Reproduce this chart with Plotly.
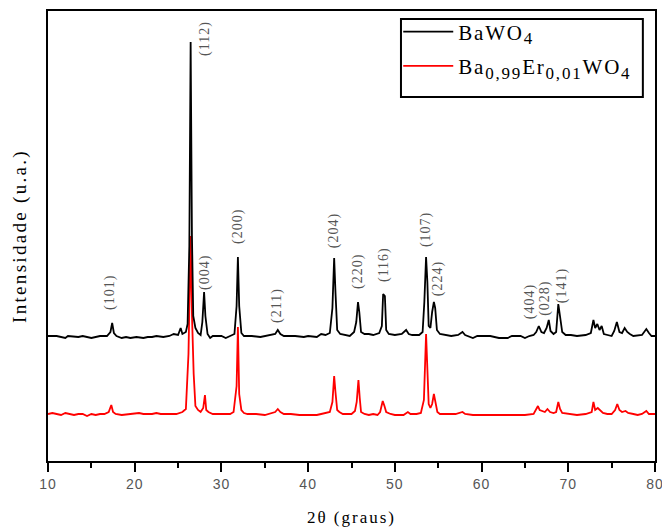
import plotly.graph_objects as go

# ---------------- data ----------------
# 2-theta (degrees) and intensity (a.u.) for BaWO4
bawo4_2theta = [10.0, 11.0, 12.0, 12.3, 13.5, 14.0, 15.0, 15.5, 16.0, 16.8, 17.2, 17.4, 17.6, 17.9,
                18.5, 19.0, 19.5, 20.2, 21.0, 21.5, 22.0, 22.5, 23.3, 24.0, 24.5, 25.0, 25.3, 25.5,
                25.9, 26.1, 26.3, 26.45, 26.6, 26.75, 27.0, 27.3, 27.6, 27.8, 28.0, 28.15, 28.4, 28.7,
                29.0, 30.0, 30.5, 31.0, 31.5, 31.75, 31.9, 32.05, 32.3, 32.6, 33.5, 34.5, 35.0, 35.5,
                36.2, 36.5, 36.8, 37.2, 38.5, 39.5, 40.0, 41.0, 41.5, 42.0, 42.5, 42.8, 43.0, 43.15,
                43.35, 43.7, 44.2, 44.8, 45.3, 45.55, 45.75, 45.9, 46.1, 46.5, 47.0, 47.5, 48.2, 48.5,
                48.65, 48.85, 49.0, 49.3, 50.0, 50.8, 51.3, 51.6, 52.0, 52.8, 53.2, 53.4, 53.6, 53.75,
                53.9, 54.1, 54.3, 54.5, 54.65, 54.85, 55.2, 55.8, 56.5, 57.3, 57.8, 58.1, 58.5, 59.0,
                59.5, 60.0, 61.0, 62.0, 62.5, 63.0, 63.5, 64.5, 65.0, 65.5, 66.0, 66.3, 66.6, 66.9,
                67.2, 67.5, 67.75, 67.95, 68.3, 68.6, 68.85, 69.05, 69.3, 69.7, 70.3, 71.0, 72.0, 72.6,
                72.9, 73.1, 73.35, 73.6, 73.85, 74.1, 74.5, 75.0, 75.3, 75.6, 75.9, 76.2, 76.5, 76.8,
                77.1, 77.5, 78.5, 79.0, 79.3, 79.6, 80.0]
bawo4_int = [0, 0, -2, 0, -1, 0, -2, -1, 0, 0, 4, 13, 3, 0,
             -2, -1, -2, -1, -2, -1, -1, 0, -1, 0, 2, 1, 8, 2,
             4, 12, 90, 294, 100, 20, 8, 3, 1, 14, 44, 20, 2, -2,
             0, 0, -2, 0, 2, 30, 79, 30, 3, 0, 0, -1, 0, 1,
             2, 6, 2, 0, 0, -1, 0, -1, 2, 1, 3, 28, 78, 44,
             6, 2, 1, 0, 4, 14, 34, 24, 4, 2, 2, 1, 3, 10,
             42, 40, 6, 2, 1, 2, 6, 2, 1, 1, 4, 34, 79, 54,
             10, 8, 24, 34, 28, 6, 2, 1, 0, 1, 4, 1, 0, -2,
             0, 0, 0, -2, -2, -2, 0, 0, -2, 0, 1, 4, 10, 4,
             3, 8, 16, 5, 2, 4, 32, 20, 4, 1, 1, 0, 1, 3,
             16, 8, 12, 6, 10, 2, 1, 0, 5, 14, 4, 3, 8, 4,
             2, 0, 1, 7, 3, 0, 0]

# 2-theta (degrees) and intensity (a.u.) for Ba0,99Er0,01WO4
baer_2theta = [10.0, 10.5, 11.0, 11.5, 12.0, 12.5, 13.0, 13.5, 14.0, 14.5, 15.0, 15.5, 16.0, 16.5,
               17.0, 17.3, 17.5, 17.8, 18.5, 19.5, 20.5, 21.0, 22.0, 22.5, 23.0, 24.0, 24.8, 25.5,
               25.9, 26.2, 26.45, 26.6, 26.8, 27.0, 27.3, 27.6, 27.9, 28.1, 28.25, 28.5, 29.0, 30.0,
               31.0, 31.4, 31.75, 31.9, 32.05, 32.3, 32.6, 33.0, 34.0, 35.0, 35.5, 36.2, 36.5, 36.8,
               37.2, 38.0, 39.0, 40.0, 41.0, 41.5, 42.2, 42.5, 42.8, 43.0, 43.15, 43.35, 43.6, 44.0,
               45.0, 45.4, 45.6, 45.8, 45.95, 46.1, 46.5, 47.0, 47.5, 48.0, 48.3, 48.6, 48.8, 49.0,
               49.5, 50.0, 51.0, 51.5, 51.8, 52.5, 53.0, 53.35, 53.6, 53.75, 53.9, 54.1, 54.3, 54.5,
               54.7, 54.9, 55.2, 56.0, 57.0, 57.8, 58.1, 59.0, 60.0, 61.0, 62.0, 63.0, 64.0, 65.0,
               66.0, 66.3, 66.5, 66.7, 67.0, 67.3, 67.6, 67.9, 68.3, 68.6, 68.85, 69.05, 69.3, 70.0,
               71.0, 72.0, 72.7, 72.9, 73.1, 73.4, 73.7, 74.0, 74.5, 75.0, 75.4, 75.65, 75.9, 76.2,
               76.6, 76.9, 77.5, 78.0, 78.5, 79.0, 79.3, 80.0]
baer_int = [0, 1, 0, -1, 1, 0, -1, 0, 0, -2, 0, -1, 0, 0,
            2, 9, 2, 0, -1, 0, 1, 0, 0, 1, 0, 0, 0, 2,
            5, 60, 178, 100, 40, 8, 4, 2, 6, 19, 4, 2, 0, 0,
            0, 2, 28, 87, 20, 4, 1, 0, 0, -1, 0, 2, 5, 2,
            0, 0, -1, -1, -1, 0, 1, 2, 12, 38, 22, 4, 2, 0,
            0, 3, 12, 34, 16, 2, 0, -1, 0, -1, 2, 13, 8, 2,
            0, -1, -1, 2, 0, 0, 1, 14, 80, 40, 10, 6, 10, 20,
            10, 2, 0, 0, 0, 2, 0, -1, -1, -1, -1, -1, -1, -1,
            0, 4, 8, 4, 3, 2, 5, 2, 1, 2, 12, 5, 1, 0,
            -1, 0, 2, 12, 4, 6, 3, 1, 0, 0, 4, 10, 4, 2,
            3, 1, 0, -1, 0, 3, 0, 0]

# vertical offsets used to stack the patterns (a.u.)
bawo4_offset = 125
baer_offset = 47

# Miller-index labels: text, 2-theta, height (a.u.)
hkl_text = ["(101)", "(112)", "(004)", "(200)", "(211)", "(204)", "(220)",
            "(116)", "(107)", "(224)", "(404)", "(028)", "(141)"]
hkl_2theta = [17.15, 28.1, 28.1, 31.9, 36.4, 43.0, 45.75, 48.75, 53.6, 55.0, 65.6, 67.3, 69.3]
hkl_y = [168, 423, 189, 235, 156, 230, 189, 196, 231, 182, 159, 163, 175]

x_ticks = [10, 20, 30, 40, 50, 60, 70, 80]

# ---------------- figure ----------------
def spaced(txt, ls):
    return "<span style='letter-spacing:%spx'>%s</span>" % (ls, txt)

SUB = "<sub><span style='font-size:17px'>{}</span></sub>"

fig = go.Figure()

fig.add_trace(go.Scatter(
    x=baer_2theta, y=[v + baer_offset for v in baer_int],
    mode="lines",
    name=spaced("Ba" + SUB.format("0,99") + "Er" + SUB.format("0,01") + "WO" + SUB.format("4"), 1.8),
    line=dict(color="#ff0000", width=1.8), legendrank=2, legendgroup="b"))
fig.add_trace(go.Scatter(
    x=bawo4_2theta, y=[v + bawo4_offset for v in bawo4_int],
    mode="lines", name=spaced("BaWO" + SUB.format("4"), 1.8),
    line=dict(color="#000000", width=1.8), legendrank=1, legendgroup="a"))

for t, xx, yy in zip(hkl_text, hkl_2theta, hkl_y):
    fig.add_annotation(x=xx, y=yy, text=spaced(t, 1), textangle=-90, showarrow=False,
                       font=dict(family="Liberation Serif", size=14, color="#555555"))

# legend frame
fig.add_shape(type="rect", xref="paper", yref="paper",
              x0=0.5815, x1=0.980, y0=0.809, y1=0.982,
              line=dict(color="black", width=2), fillcolor="white", layer="above")

fig.update_layout(
    width=662, height=528,
    margin=dict(l=48, r=7, t=11, b=67, autoexpand=False),
    paper_bgcolor="white", plot_bgcolor="white",
    showlegend=True,
    legend=dict(x=0.577, y=0.999, xanchor="left", yanchor="top",
                bgcolor="rgba(0,0,0,0)", borderwidth=0,
                font=dict(family="Liberation Serif", size=21, color="black"),
                tracegroupgap=4, itemwidth=50),
    font=dict(family="Liberation Serif"),
)
fig.update_xaxes(
    range=[10, 80], tickvals=x_ticks, ticktext=[spaced(str(v), 1) for v in x_ticks],
    ticks="outside", ticklen=9, tickwidth=2, tickcolor="black",
    minor=dict(dtick=5, tick0=10, ticks="outside", ticklen=5, tickwidth=2, tickcolor="black"),
    showline=True, linecolor="black", linewidth=2, mirror=True,
    showgrid=False, zeroline=False, automargin=False, ticklabeloverflow="allow",
    tickfont=dict(family="Liberation Sans", size=14, color="#555555"),
    title=dict(text=spaced("2θ (graus)", 2), font=dict(family="Liberation Serif", size=17, color="black"),
               standoff=20),
)
fig.update_yaxes(
    range=[0, 450], showticklabels=False, ticks="",
    showline=True, linecolor="black", linewidth=2, mirror=True,
    showgrid=False, zeroline=False, automargin=False,
    title=dict(text=spaced("Intensidade (u.a.)", 2.3),
               font=dict(family="Liberation Serif", size=19, color="black"),
               standoff=14),
)

fig.write_html("out.html")
